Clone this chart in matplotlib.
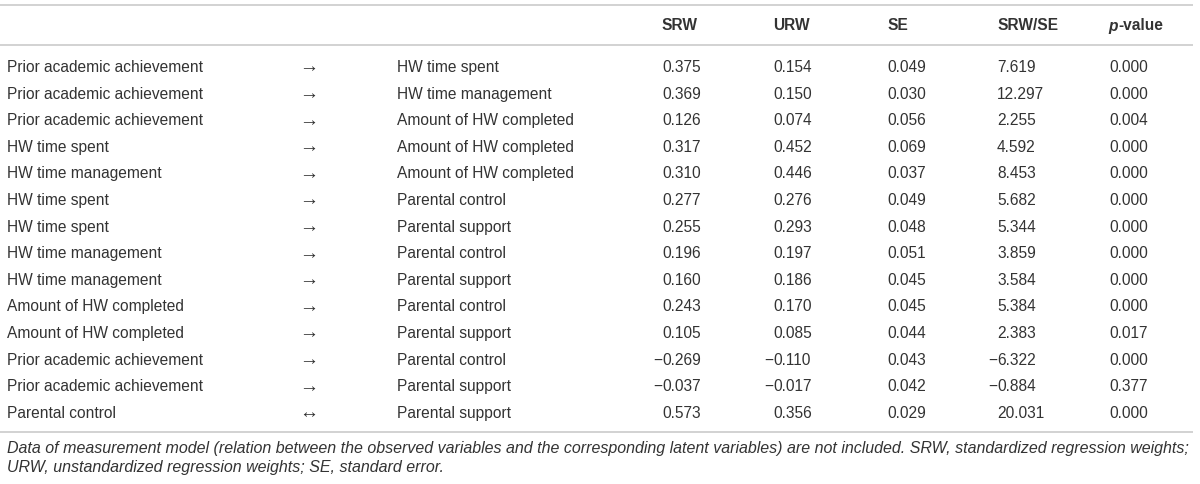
import matplotlib
matplotlib.use("Agg")
import matplotlib.pyplot as plt

plt.rcParams["font.family"] = ["Liberation Sans", "DejaVu Sans"]

headers = ["SRW", "URW", "SE", "SRW/SE"]
sources = ["Prior academic achievement", "Prior academic achievement", "Prior academic achievement",
           "HW time spent", "HW time management", "HW time spent", "HW time spent",
           "HW time management", "HW time management", "Amount of HW completed",
           "Amount of HW completed", "Prior academic achievement", "Prior academic achievement",
           "Parental control"]
relations = ["→"] * 13 + ["↔"]
targets = ["HW time spent", "HW time management", "Amount of HW completed",
           "Amount of HW completed", "Amount of HW completed", "Parental control",
           "Parental support", "Parental control", "Parental support", "Parental control",
           "Parental support", "Parental control", "Parental support", "Parental support"]
srw = ["0.375", "0.369", "0.126", "0.317", "0.310", "0.277", "0.255", "0.196", "0.160",
       "0.243", "0.105", "−0.269", "−0.037", "0.573"]
urw = ["0.154", "0.150", "0.074", "0.452", "0.446", "0.276", "0.293", "0.197", "0.186",
       "0.170", "0.085", "−0.110", "−0.017", "0.356"]
se = ["0.049", "0.030", "0.056", "0.069", "0.037", "0.049", "0.048", "0.051", "0.045",
      "0.045", "0.044", "0.043", "0.042", "0.029"]
srw_se = ["7.619", "12.297", "2.255", "4.592", "8.453", "5.682", "5.344", "3.859", "3.584",
          "5.384", "2.383", "−6.322", "−0.884", "20.031"]
pvalues = ["0.000", "0.000", "0.004", "0.000", "0.000", "0.000", "0.000", "0.000", "0.000",
           "0.000", "0.017", "0.000", "0.377", "0.000"]
footnote = ["Data of measurement model (relation between the observed variables and the corresponding latent variables) are not included. SRW, standardized regression weights;",
            "URW, unstandardized regression weights; SE, standard error."]

fig = plt.figure(figsize=(12, 4.85), dpi=100)
ax = fig.add_axes([0, 0, 1, 1])
ax.set_xlim(0, 1200)
ax.set_ylim(485, 0)
ax.axis("off")

txt = "#333333"
fs = 11.2
line_c = "#cfcfcf"

# rules
for y in (6, 45.5, 432.5):
    ax.plot([0, 1193], [y, y], color=line_c, lw=1.3, solid_capstyle="butt")

# header
num_x = [662, 773, 887, 997]
hy = 26
for x, h in zip(num_x, headers):
    ax.text(x, hy, h, fontsize=fs, fontweight="bold", color=txt, va="center", ha="left")
p_t = ax.text(1108, hy, "p", fontsize=fs, fontweight="bold", fontstyle="italic",
              color=txt, va="center", ha="left")
fig.canvas.draw()
bb = p_t.get_window_extent()
ax.text(1108 + bb.width + 0.5, hy, "-value", fontsize=fs, fontweight="bold",
        color=txt, va="center", ha="left")

# body
y0, dy = 67.5, 26.6
cols = [srw, urw, se, srw_se]
for i in range(len(sources)):
    y = y0 + i * dy
    ax.text(7, y, sources[i], fontsize=fs, color=txt, va="center", ha="left")
    ax.text(308.5, y + 0.5, relations[i], fontsize=13.8, color=txt, va="center", ha="center")
    ax.text(397, y, targets[i], fontsize=fs, color=txt, va="center", ha="left")
    for x, col in zip(num_x, cols):
        v = col[i]
        if v.startswith("−"):
            ax.text(x, y, "−", fontsize=fs, color=txt, va="center", ha="right")
            v = v[1:]
        ax.text(x, y, v, fontsize=fs, color=txt, va="center", ha="left")
    ax.text(1109, y, pvalues[i], fontsize=fs, color=txt, va="center", ha="left")

# footnote
for j, line in enumerate(footnote):
    ax.text(7, 448.5 + j * 19, line, fontsize=11.5, fontstyle="italic", color=txt,
            va="center", ha="left")

fig.savefig("out.png", dpi=100)
